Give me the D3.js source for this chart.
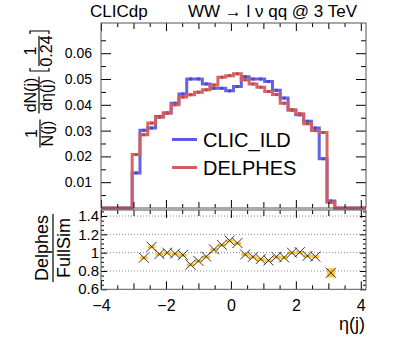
<!DOCTYPE html>
<html>
<head>
<meta charset="utf-8">
<script src="https://cdn.jsdelivr.net/npm/d3@7"></script>
<style>
  body { margin: 0; background: #fff; }
  svg { display: block; font-family: "Liberation Sans", Arial, sans-serif; }
</style>
</head>
<body>
<svg width="407" height="348"></svg>
<script>
// bin lower edges (bin width 0.24)
const binLow = [-3.04, -2.80, -2.56, -2.32, -2.08, -1.84, -1.60, -1.36, -1.12, -0.88,
  -0.64, -0.40, -0.16, 0.08, 0.32, 0.56, 0.80, 1.04, 1.28, 1.52,
  1.76, 2.00, 2.24, 2.48, 2.72, 2.96]
const binWidth = 0.24

const clicIld = [0.0136, 0.0301, 0.0310, 0.0355, 0.0368, 0.0406, 0.0442, 0.0500, 0.0500, 0.0481,
  0.0464, 0.0464, 0.0454, 0.0471, 0.0509, 0.0500, 0.0500, 0.0490, 0.0456, 0.0426,
  0.0380, 0.0361, 0.0336, 0.0310, 0.0191, 0.0027]
const delphes = [0.0207, 0.0284, 0.0329, 0.0352, 0.0368, 0.0400, 0.0430, 0.0439, 0.0449, 0.0458,
  0.0477, 0.0507, 0.0513, 0.0520, 0.0497, 0.0481, 0.0468, 0.0452, 0.0440, 0.0406,
  0.0380, 0.0365, 0.0327, 0.0300, 0.0293, 0.0022]
// Delphes / FullSim ratio per bin (null = not shown)
const ratio = [null, 0.945, 1.065, 0.985, 1.0, 0.99, 0.975, 0.87, 0.91, 0.957,
  1.035, 1.085, 1.132, 1.105, 0.98, 0.955, 0.93, 0.915, 0.955, 0.948,
  1.0, 1.005, 0.965, 0.957, null, 0.78]
const ratioErr = [0, 0.015, 0.015, 0.014, 0.014, 0.013, 0.013, 0.013, 0.013, 0.013,
  0.013, 0.013, 0.013, 0.013, 0.013, 0.013, 0.013, 0.013, 0.013, 0.013,
  0.014, 0.014, 0.014, 0.015, 0, 0.05]

const seriesNames = ['CLIC_ILD', 'DELPHES']
const xLabelTicks = [-4, -2, 0, 2, 4]
const topYTicks = [0.01, 0.02, 0.03, 0.04, 0.05, 0.06]
const ratioYTicks = [0.6, 0.8, 1, 1.2, 1.4]
const ratioGrid = [0.8, 1, 1.2, 1.4]

const blue = '#5b5be8', red = '#d85c5c'
const svg = d3.select('svg')

const L = 101, R = 366, T = 23, B1 = 208, T2 = 210, B2 = 289.3
const x = d3.scaleLinear().domain([-4, 4.16]).range([L, R])
const yTop = d3.scaleLinear().domain([0, 0.0717]).range([B1, T])
const yRat = d3.scaleLinear().domain([0.6, 1.466]).range([B2, T2])

const halfTicks = d3.range(-4, 4.01, 0.5).filter(d => d % 1 !== 0)
const oddTicks = [-3, -1, 1, 3]

function noDomain(g) { g.select('.domain').remove() }
function xTicks(y, sign, labels) {
  const mk = (vals, len) => {
    const ax = (sign > 0 ? d3.axisBottom(x) : d3.axisTop(x)).tickValues(vals).tickSizeInner(-len).tickSizeOuter(0).tickFormat('')
    svg.append('g').attr('transform', `translate(0,${y})`).call(ax).call(noDomain)
  }
  mk(halfTicks, 4)
  mk(oddTicks, 6)
  const ax = (sign > 0 ? d3.axisBottom(x) : d3.axisTop(x)).tickValues(xLabelTicks).tickSizeInner(-8).tickSizeOuter(0).tickPadding(10.5)
    .tickFormat(labels ? d3.format('') : '')
  const g = svg.append('g').attr('transform', `translate(0,${y})`).call(ax).call(noDomain)
  g.selectAll('text').attr('font-size', 16).attr('fill', '#000').attr('font-family', 'Liberation Sans, Arial, sans-serif')
}

// ---- top panel ----
const topG = svg.append('g')
xTicks(B1, 1, false)
xTicks(T, -1, false)

const topMinor = d3.range(0.005, 0.071, 0.01)
svg.append('g').attr('transform', `translate(${L},0)`)
  .call(d3.axisLeft(yTop).tickValues(topMinor).tickSizeInner(-5).tickSizeOuter(0).tickFormat('')).call(noDomain)
svg.append('g').attr('transform', `translate(${R},0)`)
  .call(d3.axisRight(yTop).tickValues(topMinor).tickSizeInner(-5).tickSizeOuter(0).tickFormat('')).call(noDomain)
svg.append('g').attr('transform', `translate(${R},0)`)
  .call(d3.axisRight(yTop).tickValues(topYTicks).tickSizeInner(-10).tickSizeOuter(0).tickFormat('')).call(noDomain)
const yl = svg.append('g').attr('transform', `translate(${L},0)`)
  .call(d3.axisLeft(yTop).tickValues(topYTicks).tickSizeInner(-10).tickSizeOuter(0).tickPadding(9).tickFormat(d3.format('.2f'))).call(noDomain)
yl.selectAll('text').attr('font-size', 14).attr('fill', '#000').attr('font-family', 'Liberation Sans, Arial, sans-serif')

function stepPoints(vals) {
  const pts = [[-4, 0]]
  vals.forEach((v, i) => pts.push([binLow[i], v]))
  pts.push([binLow[binLow.length - 1] + binWidth, 0])
  pts.push([4.16, 0])
  return pts
}
const line = d3.line().x(d => x(d[0])).y(d => yTop(d[1])).curve(d3.curveStepAfter)

;[[clicIld, blue], [delphes, red]].forEach(([vals, col]) => {
  topG.append('path').attr('d', line(stepPoints(vals)))
    .attr('fill', 'none').attr('stroke', col).attr('stroke-width', 3).attr('stroke-opacity', 0.95)
  topG.selectAll(null).data(vals).enter().append('rect')
    .attr('x', (d, i) => x(binLow[i] + binWidth / 2) - 1.5)
    .attr('y', d => yTop(d) - 1.5)
    .attr('width', 3).attr('height', 3)
    .attr('fill', d3.color(col).darker(0.5))
})

svg.append('rect').attr('x', L).attr('y', T).attr('width', R - L).attr('height', B1 - T)
  .attr('fill', 'none').attr('stroke', '#555').attr('stroke-width', 1)

// legend
const leg = svg.append('g')
;[blue, red].forEach((col, i) => {
  const yy = 139.5 + i * 28
  leg.append('line').attr('x1', 172).attr('x2', 197).attr('y1', yy).attr('y2', yy)
    .attr('stroke', col).attr('stroke-width', 3)
  leg.append('text').attr('x', 203).attr('y', yy + 7.2).attr('font-size', 20).text(seriesNames[i])
})

// ---- ratio panel ----
svg.append('g').selectAll('line').data(ratioGrid).enter().append('line')
  .attr('x1', L).attr('x2', R).attr('y1', d => yRat(d)).attr('y2', d => yRat(d))
  .attr('stroke', '#888').attr('stroke-dasharray', '1,2')

xTicks(B2, 1, true)
xTicks(T2, -1, false)
const ratMinor = d3.range(0.65, 1.46, 0.05).filter(d => Math.abs(d * 5 - Math.round(d * 5)) > 1e-6)
svg.append('g').attr('transform', `translate(${L},0)`)
  .call(d3.axisLeft(yRat).tickValues(ratMinor).tickSizeInner(-3).tickSizeOuter(0).tickFormat('')).call(noDomain)
svg.append('g').attr('transform', `translate(${R},0)`)
  .call(d3.axisRight(yRat).tickValues(ratMinor).tickSizeInner(-3).tickSizeOuter(0).tickFormat('')).call(noDomain)
svg.append('g').attr('transform', `translate(${R},0)`)
  .call(d3.axisRight(yRat).tickValues(ratioYTicks).tickSizeInner(-6).tickSizeOuter(0).tickFormat('')).call(noDomain)
const ryl = svg.append('g').attr('transform', `translate(${L},0)`)
  .call(d3.axisLeft(yRat).tickValues(ratioYTicks).tickSizeInner(-6).tickSizeOuter(0).tickPadding(2)
    .tickFormat(d => d === 1 ? '1' : d.toFixed(1))).call(noDomain)
ryl.selectAll('text').attr('font-size', 15).attr('fill', '#000').attr('font-family', 'Liberation Sans, Arial, sans-serif')
ryl.selectAll('text').filter(d => d === 0.6).attr('dy', '0.25em')

const pts = ratio.map((r, i) => ({ r, e: ratioErr[i], c: binLow[i] + binWidth / 2, lo: binLow[i] })).filter(d => d.r !== null)
const rg = svg.append('g')
rg.selectAll('rect').data(pts).enter().append('rect')
  .attr('x', d => x(d.lo)).attr('width', x(binWidth) - x(0))
  .attr('y', d => yRat(d.r + d.e)).attr('height', d => Math.max(yRat(d.r - d.e) - yRat(d.r + d.e), 3))
  .attr('fill', '#fcc63a')
rg.selectAll('path').data(pts).enter().append('path')
  .attr('d', d => {
    const cx = x(d.c), cy = yRat(d.r), s = 5
    return `M${cx - s},${cy - s}L${cx + s},${cy + s}M${cx - s},${cy + s}L${cx + s},${cy - s}`
  })
  .attr('stroke', '#222').attr('stroke-width', 0.9).attr('fill', 'none')

svg.append('rect').attr('x', L).attr('y', T2).attr('width', R - L).attr('height', B2 - T2)
  .attr('fill', 'none').attr('stroke', '#555').attr('stroke-width', 1)

// ---- titles ----
svg.append('text').attr('x', 90).attr('y', 17).attr('font-size', 17).text('CLICdp')
svg.append('text').attr('x', 357).attr('y', 17).attr('font-size', 17).attr('text-anchor', 'end').text('WW → l ν qq @ 3 TeV')
svg.append('text').attr('x', 365).attr('y', 330).attr('font-size', 18).attr('text-anchor', 'end').text('η(j)')

// top y-axis label (rotated fractions)
const yt = svg.append('g').attr('transform', 'translate(40,147) rotate(-90)').attr('font-size', 16)
function frac(g, cx, w, num, den, nb, db) {
  g.append('text').attr('x', cx).attr('y', nb).attr('text-anchor', 'middle').text(num)
  g.append('text').attr('x', cx).attr('y', db).attr('text-anchor', 'middle').text(den)
  g.append('line').attr('x1', cx - w / 2).attr('x2', cx + w / 2).attr('y1', 0).attr('y2', 0)
    .attr('stroke', '#000').attr('stroke-width', 1.2)
}
frac(yt, 13.5, 28, '1', 'N(j)', -3, 13)
const yt2 = yt.append('g').attr('transform', 'translate(0,-1)')
frac(yt2, 52, 37, 'dN(j)', 'dη(j)', -3, 13)
frac(yt2, 96, 30, '1', '0.24', -3, 13)
yt2.append('path').attr('d', 'M79,-9L76,-9L76,10L79,10').attr('fill', 'none').attr('stroke', '#000').attr('stroke-width', 1.2)
yt2.append('path').attr('d', 'M113,-9L116,-9L116,10L113,10').attr('fill', 'none').attr('stroke', '#000').attr('stroke-width', 1.2)

// ratio y-axis label
const ry = svg.append('g').attr('transform', 'translate(53,248) rotate(-90)').attr('font-size', 18)
frac(ry, 0, 68, 'Delphes', 'FullSim', -5, 17)
</script>
</body>
</html>
